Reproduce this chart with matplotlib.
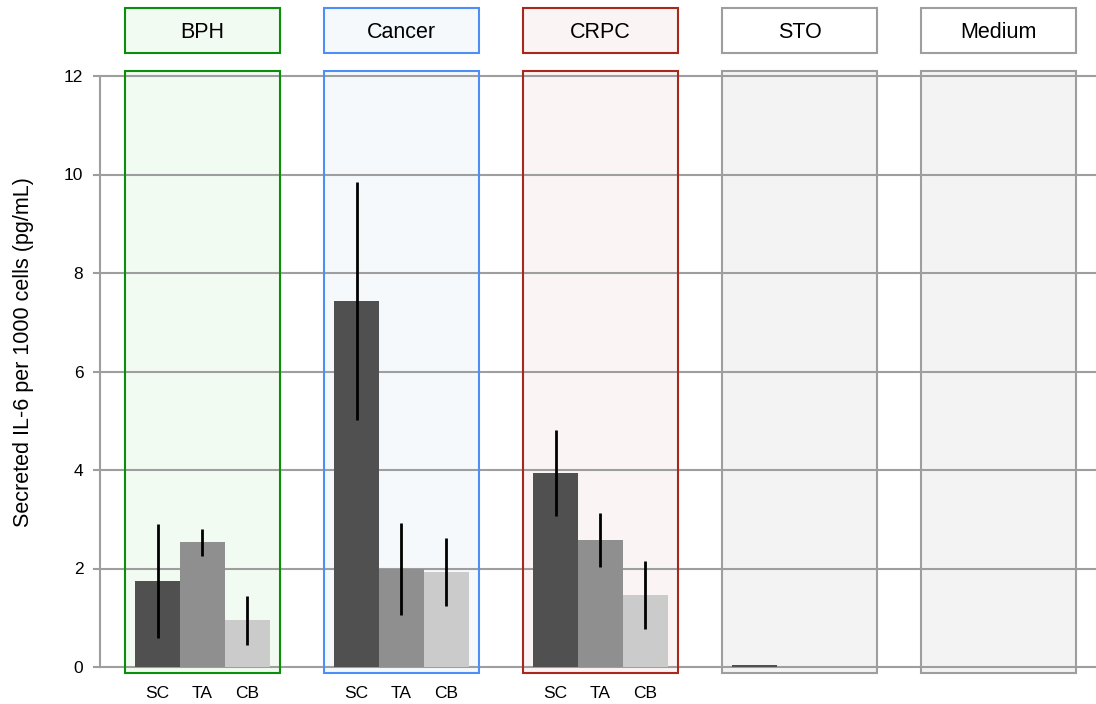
import numpy as np
import matplotlib.pyplot as plt
from matplotlib.patches import Rectangle
import matplotlib.transforms as mtransforms

plt.rcParams['font.family'] = ['Liberation Sans', 'DejaVu Sans']

# groups and values (pg/mL per 1000 cells)
groups = ["BPH", "Cancer", "CRPC", "STO", "Medium"]
cell_types = ["SC", "TA", "CB"]
sc_mean = [1.75, 7.43, 3.94, 0.05, 0.0]
ta_mean = [2.53, 1.99, 2.58, 0.0, 0.0]
cb_mean = [0.95, 1.93, 1.46, 0.0, 0.0]
sc_err = [1.16, 2.41, 0.88, 0.0, 0.0]
ta_err = [0.28, 0.93, 0.55, 0.0, 0.0]
cb_err = [0.50, 0.69, 0.69, 0.0, 0.0]
has_labels = [True, True, True, False, False]

bar_colors = ["#505050", "#8f8f8f", "#cbcbcb"]
edge_colors = ["#0a8f0a", "#4d8ef7", "#a8291c", "#9e9e9e", "#9e9e9e"]
panel_fill = ["#f2fbf1", "#f5f9fc", "#fbf4f4", "#f3f3f3", "#f3f3f3"]
header_fill = ["#f2fbf1", "#f5f9fc", "#fbf4f4", "#ffffff", "#ffffff"]

fig = plt.figure(figsize=(10.96, 7.04), dpi=100)
ax = fig.add_axes([100 / 1096, 37 / 704, 996 / 1096, 591 / 704])

x = np.arange(len(groups))
w = 0.226
box_w = 0.78
means = [sc_mean, ta_mean, cb_mean]
errs = [sc_err, ta_err, cb_err]

# panel boxes behind everything
for i in range(len(groups)):
    ax.add_patch(Rectangle((x[i] - box_w / 2, -0.12), box_w, 12.22,
                           facecolor=panel_fill[i], edgecolor="none",
                           zorder=0, clip_on=False))
    ax.add_patch(Rectangle((x[i] - box_w / 2, -0.12), box_w, 12.22,
                           facecolor="none", edgecolor=edge_colors[i],
                           lw=1.5, zorder=3, clip_on=False))

# grid
for v in range(0, 13, 2):
    ax.axhline(v, color="#9e9e9e", lw=1.5, zorder=1, xmin=-0.006, clip_on=False)

for j in range(3):
    m = np.array(means[j])
    e = np.array(errs[j])
    pos = x + (j - 1) * w
    ax.bar(pos, m, width=w, color=bar_colors[j], zorder=2)
    show = e > 0
    ax.errorbar(pos[show], m[show], yerr=e[show], fmt="none",
                ecolor="black", elinewidth=2, capsize=0, zorder=4)

ax.set_xlim(-0.515, 4.49)
ax.set_ylim(0, 12)
ax.set_yticks(range(0, 13, 2))
ax.tick_params(axis="y", length=0, labelsize=12.5, pad=12)
ax.tick_params(axis="x", length=0)
ax.set_xticks([])
for s in ["top", "right", "bottom"]:
    ax.spines[s].set_visible(False)
ax.spines["left"].set_color("#9e9e9e")
ax.spines["left"].set_linewidth(1.5)
ax.spines["left"].set_zorder(1)

# category labels under bars
trans = mtransforms.blended_transform_factory(ax.transData, ax.transAxes)
for i in range(len(groups)):
    if has_labels[i]:
        for j, ct in enumerate(cell_types):
            ax.text(x[i] + (j - 1) * w, -0.044, ct, transform=trans,
                    ha="center", va="center", fontsize=12.5)

# header boxes
for i, g in enumerate(groups):
    ax.add_patch(Rectangle((x[i] - box_w / 2, 1.039), box_w, 0.076,
                           transform=trans, facecolor=header_fill[i],
                           edgecolor=edge_colors[i], lw=1.5, clip_on=False))
    ax.text(x[i], 1.074, g, transform=trans, ha="center", va="center",
            fontsize=15.5)

ax.set_ylabel("Secreted IL-6 per 1000 cells (pg/mL)", fontsize=15.5)
ax.yaxis.set_label_coords(-0.066, 0.533)

fig.savefig("out.png", dpi=100)
